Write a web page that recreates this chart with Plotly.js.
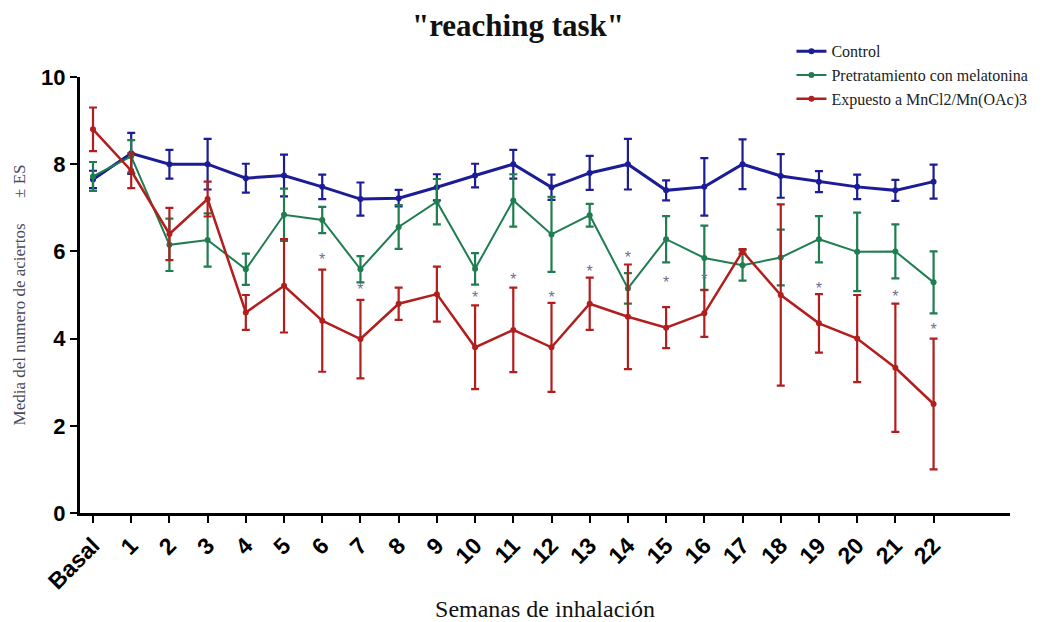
<!DOCTYPE html>
<html>
<head>
<meta charset="utf-8">
<script src="https://cdn.plot.ly/plotly-3.0.1.min.js"></script>
<style>html,body{margin:0;padding:0;background:#fff;}#chart{width:1055px;height:622px;}</style>
</head>
<body>
<div id="chart"></div>
<script>
const weeks = ['Basal','1','2','3','4','5','6','7','8','9','10','11','12','13','14','15','16','17','18','19','20','21','22'];

const controlMean = [7.65,8.25,8.0,8.0,7.68,7.74,7.48,7.2,7.22,7.47,7.74,8.0,7.47,7.8,8.0,7.4,7.48,8.0,7.73,7.6,7.48,7.4,7.6];
const controlErr  = [0.2,0.47,0.33,0.58,0.33,0.48,0.28,0.38,0.19,0.3,0.27,0.33,0.29,0.39,0.58,0.23,0.66,0.57,0.5,0.24,0.28,0.24,0.39];

const melatMean = [7.72,8.18,6.15,6.26,5.59,6.84,6.72,5.59,6.56,7.14,5.6,7.17,6.39,6.83,5.15,6.28,5.85,5.68,5.86,6.28,5.99,6.0,5.29];
const melatErr  = [0.33,0.37,0.6,0.61,0.36,0.6,0.3,0.3,0.5,0.52,0.36,0.6,0.86,0.26,0.35,0.53,0.74,0.35,0.64,0.53,0.9,0.62,0.71];

const mnMean = [8.8,7.85,6.4,7.2,4.6,5.21,4.41,3.99,4.8,5.02,3.8,4.2,3.8,4.8,4.5,4.25,4.58,6.0,5.0,4.35,4.0,3.33,2.5];
const mnErr  = [0.5,0.4,0.6,0.4,0.4,1.07,1.17,0.9,0.37,0.63,0.96,0.97,1.02,0.6,1.2,0.47,0.54,0.05,2.08,0.67,1.0,1.47,1.5];

const starWeeks = ['6','7','10','11','12','13','14','15','16','19','21','22'];
const starY     = [5.79,5.09,4.9,5.31,4.9,5.5,5.83,5.25,5.31,5.11,4.92,4.17];

const names = ['Control','Pretratamiento con melatonina','Expuesto a MnCl2/Mn(OAc)3'];
const colors = ['#1c1c96','#1f7d50','#b21e1e'];

function series(mean, err, name, color, lw) {
  return {
    type: 'scatter', mode: 'lines+markers', name: name,
    x: weeks, y: mean,
    line: {color: color, width: lw},
    marker: {color: color, size: 6, symbol: 'circle'},
    error_y: {type: 'data', array: err, visible: true, color: color, thickness: 2.2, width: 4}
  };
}

const data = [
  series(controlMean, controlErr, names[0], colors[0], 3),
  series(melatMean, melatErr, names[1], colors[1], 2),
  series(mnMean, mnErr, names[2], colors[2], 2.5),
  {
    type: 'scatter', mode: 'text', x: starWeeks, y: starY, text: starWeeks.map(() => '*'),
    textfont: {family: 'Liberation Sans', size: 16, color: '#6f6f8f'},
    textposition: 'middle center', showlegend: false, hoverinfo: 'skip'
  }
];

const serif = 'Liberation Serif, Times New Roman, serif';
const sans = 'Liberation Sans, Arial, sans-serif';

const layout = {
  width: 1055, height: 622,
  margin: {l: 80, r: 45, t: 77, b: 109},
  paper_bgcolor: '#fff', plot_bgcolor: '#fff',
  title: {text: '"reaching task"', font: {family: serif, size: 31, color: '#111', weight: 'bold'},
          x: 0.491, xref: 'container', y: 0.96, yref: 'container', yanchor: 'middle'},
  showlegend: true,
  legend: {x: 0.765, y: 1.098, xanchor: 'left', yanchor: 'top', font: {family: serif, size: 16, color: '#222'},
           bgcolor: 'rgba(0,0,0,0)', tracegroupgap: 0, itemwidth: 30},
  xaxis: {
    type: 'category', range: [-0.34, 24.0], showgrid: false, zeroline: false,
    showline: true, linecolor: '#000', linewidth: 3,
    ticks: 'outside', ticklen: 7, tickwidth: 2, tickcolor: '#000',
    tickangle: -45, tickfont: {family: sans, size: 23, color: '#000', weight: 'bold'},
    title: {text: 'Semanas de inhalación', font: {family: serif, size: 24, color: '#111'}, standoff: 16},
    automargin: false
  },
  yaxis: {
    range: [0, 10], dtick: 2, showgrid: false, zeroline: false,
    showline: true, linecolor: '#000', linewidth: 3,
    ticks: 'outside', ticklen: 7, tickwidth: 2, tickcolor: '#000',
    tickfont: {family: sans, size: 22, color: '#000', weight: 'bold'},
    title: {text: 'Media del numero de aciertos\u00a0\u00a0\u00a0\u00a0\u00a0\u00a0\u00b1 ES', font: {family: serif, size: 17, color: '#4a4a5a'}, standoff: 12},
    automargin: false
  }
};

Plotly.newPlot('chart', data, layout, {displayModeBar: false, staticPlot: true});
</script>
</body>
</html>
